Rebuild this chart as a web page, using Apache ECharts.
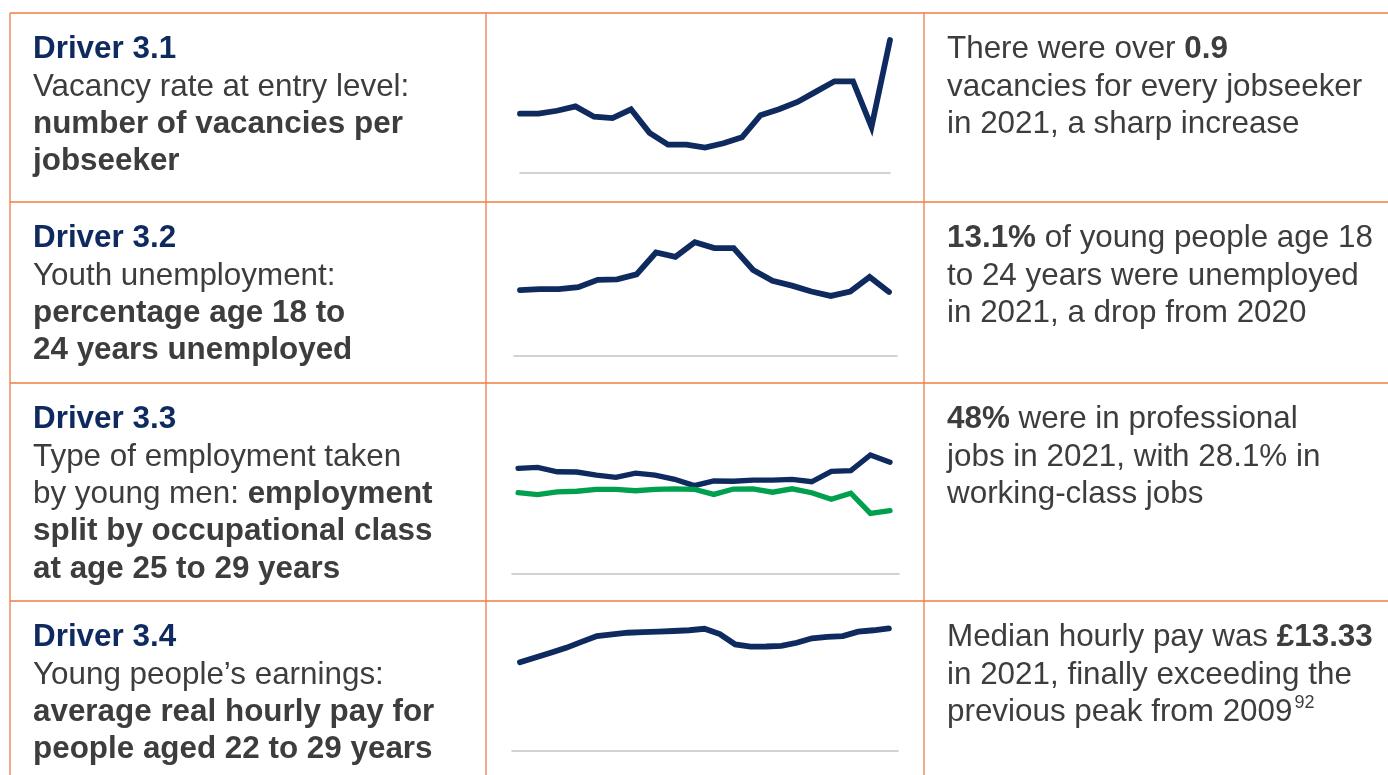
<!DOCTYPE html>
<html>
<head>
<meta charset="utf-8">
<script src="https://cdn.jsdelivr.net/npm/echarts@6/dist/echarts.min.js"></script>
<style>
html,body{margin:0;padding:0;background:#fff;}
#chart{width:1388px;height:775px;}
</style>
</head>
<body>
<div id="chart"></div>
<script>
// ---- Data ----
const vacancyYears = [2001,2002,2003,2004,2005,2006,2007,2008,2009,2010,2011,2012,2013,2014,2015,2016,2017,2018,2019,2020,2021];
const vacancyRate = [0.40,0.40,0.42,0.45,0.38,0.37,0.43,0.27,0.19,0.19,0.17,0.20,0.24,0.39,0.43,0.48,0.55,0.62,0.62,0.31,0.90];

const youthYears = [2002,2003,2004,2005,2006,2007,2008,2009,2010,2011,2012,2013,2014,2015,2016,2017,2018,2019,2020,2021];
const youthUnemployment = [13.5,13.7,13.7,14.1,15.6,15.7,16.7,21.2,20.3,23.3,22.1,22.1,17.6,15.4,14.4,13.2,12.3,13.2,16.2,13.1];

const classYears = [2002,2003,2004,2005,2006,2007,2008,2009,2010,2011,2012,2013,2014,2015,2016,2017,2018,2019,2020,2021];
const professional = [45.5,45.9,44.1,44.0,42.7,41.8,43.5,42.7,41.0,38.4,40.3,40.2,40.7,40.7,41.0,40.0,44.3,44.6,51.0,48.0];
const workingClass = [35.5,34.7,35.8,36.1,36.9,36.9,36.3,36.9,37.1,36.9,34.8,37.0,37.1,35.7,37.1,35.5,32.8,35.3,27.0,28.1];

const payYears = [1997,1998,1999,2000,2001,2002,2003,2004,2005,2006,2007,2008,2009,2010,2011,2012,2013,2014,2015,2016,2017,2018,2019,2020,2021];
const medianPay = [9.63,10.15,10.68,11.20,11.85,12.49,12.67,12.85,12.91,12.97,13.04,13.12,13.28,12.71,11.57,11.33,11.35,11.41,11.76,12.24,12.39,12.49,12.96,13.12,13.33];

const leftTexts = [
  "{t|Driver 3.1}\n{n|Vacancy rate at entry level:}\n{b|number of vacancies per}\n{b|jobseeker}",
  "{t|Driver 3.2}\n{n|Youth unemployment:}\n{b|percentage age 18 to}\n{b|24 years unemployed}",
  "{t|Driver 3.3}\n{n|Type of employment taken}\n{n|by young men: }{b|employment}\n{b|split by occupational class}\n{b|at age 25 to 29 years}",
  "{t|Driver 3.4}\n{n|Young people\u2019s earnings:}\n{b|average real hourly pay for}\n{b|people aged 22 to 29 years}"
];
const rightTexts = [
  "{n|There were over }{b|0.9}\n{n|vacancies for every jobseeker}\n{n|in 2021, a sharp increase}",
  "{b|13.1%}{n| of young people age 18}\n{n|to 24 years were unemployed}\n{n|in 2021, a drop from 2020}",
  "{b|48%}{n| were in professional}\n{n|jobs in 2021, with 28.1% in}\n{n|working-class jobs}",
  "{n|Median hourly pay was }{b|\u00a313.33}\n{n|in 2021, finally exceeding the}\n{n|previous peak from 2009}{s|92}"
];

// ---- Layout ----
const NAVY = '#0f2a5f', GREEN = '#00a04f', ORANGE = '#f07d45', TXT = '#3d3d3d', AXIS = '#c3c3c3';
const FONT = '"Liberation Sans", Arial, Helvetica, sans-serif';
const FS = 31.4, LH = 37.4;
const rowTops = [13, 202, 383, 601];
const vLines = [10, 486, 924];

function pairs(xs, ys){ return xs.map((x,i)=>[x, ys[i]]); }

const rich = {
  t: {fontFamily: FONT, fontSize: FS, fontWeight: 'bold', fill: NAVY, lineHeight: LH},
  n: {fontFamily: FONT, fontSize: FS, fill: TXT, lineHeight: LH},
  b: {fontFamily: FONT, fontSize: FS, fontWeight: 'bold', fill: TXT, lineHeight: LH},
  s: {fontFamily: FONT, fontSize: 18, fill: TXT, lineHeight: 22, verticalAlign: 'top', padding: [0, 0, 0, 2]}
};

const graphics = [];
rowTops.forEach(y => graphics.push({type:'line', silent:true, shape:{x1:10, y1:y, x2:1388, y2:y}, style:{stroke:ORANGE, lineWidth:1.3}}));
vLines.forEach(x => graphics.push({type:'line', silent:true, shape:{x1:x, y1:13, x2:x, y2:775}, style:{stroke:ORANGE, lineWidth:1.3}}));
const textTopOffset = 47.5 - 0.3465*FS - LH/2;
leftTexts.forEach((t,i) => graphics.push({type:'text', silent:true, x:33, y:rowTops[i] + textTopOffset,
  style:{text:t, rich:rich, fill:TXT, align:'left', verticalAlign:'top', font: FS + 'px ' + FONT}}));
rightTexts.forEach((t,i) => graphics.push({type:'text', silent:true, x:947, y:rowTops[i] + textTopOffset,
  style:{text:t, rich:rich, fill:TXT, align:'left', verticalAlign:'top', font: FS + 'px ' + FONT}}));

const grids = [
  {left:520, top:40,    width:370, height:132.7},
  {left:514, top:233.9, width:383, height:122.1},
  {left:512, top:433.1, width:387, height:140.2},
  {left:512, top:613,   width:386, height:137.7}
];
const xRanges = [[2001,2021],[2001.69,2021.41],[2001.69,2021.46],[1996.48,2021.59]];
const yRanges = [[0,0.9],[0,25],[2.36,60],[0,15]];

const xAxes = xRanges.map((r,i)=>({type:'value', gridIndex:i, min:r[0], max:r[1],
  axisLine:{show:true, onZero:false, lineStyle:{color:AXIS, width:1.5}},
  axisTick:{show:false}, axisLabel:{show:false}, splitLine:{show:false}}));
const yAxes = yRanges.map((r,i)=>({type:'value', gridIndex:i, min:r[0], max:r[1], show:false, splitLine:{show:false}}));

function lineSeries(idx, data, color, w){
  return {type:'line', xAxisIndex:idx, yAxisIndex:idx, data:data, showSymbol:false, symbol:'none', clip:false,
    lineStyle:{color:color, width:w, cap:'round', join:'miter'}, silent:true};
}

const chart = echarts.init(document.getElementById('chart'), null, {renderer:'canvas'});
chart.setOption({
  animation:false,
  backgroundColor:'#ffffff',
  grid: grids,
  xAxis: xAxes,
  yAxis: yAxes,
  series: [
    lineSeries(0, pairs(vacancyYears, vacancyRate), NAVY, 5.8),
    lineSeries(1, pairs(youthYears, youthUnemployment), NAVY, 5.8),
    lineSeries(2, pairs(classYears, professional), NAVY, 5.3),
    lineSeries(2, pairs(classYears, workingClass), GREEN, 5.3),
    lineSeries(3, pairs(payYears, medianPay), NAVY, 5.8)
  ],
  graphic: graphics
});
</script>
</body>
</html>
